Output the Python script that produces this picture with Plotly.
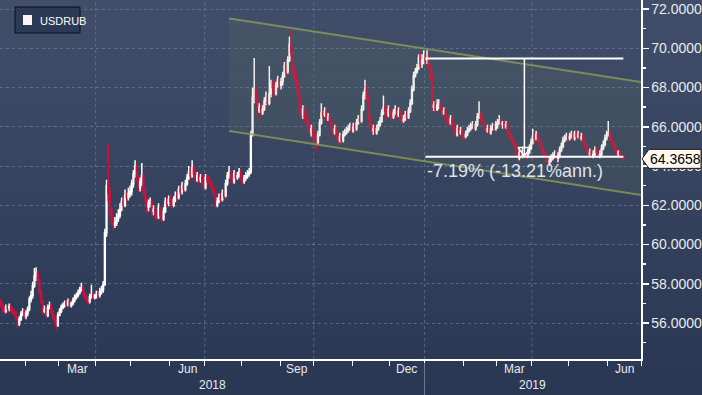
import sys
import numpy as np
import pandas as pd
import plotly.graph_objects as go

# ---------------- data ----------------
series_name = "USDRUB"
start_date = "2018-01-11"
axis_end_date = "2019-07-01"

open_ = [
    # Jan 2018
    57.10, 56.95, 56.70, 56.60, 56.80, 56.75, 56.85, 56.65, 56.55, 56.50, 56.25, 55.95, 56.20, 56.45, 56.60,
    # Feb
    56.35, 56.50, 56.70, 57.20, 57.40, 57.90, 58.40, 58.55, 58.20, 57.60, 57.10, 56.60, 56.70, 56.40, 56.80, 56.90, 56.60, 56.30, 56.10, 55.90,
    # Mar
    56.40, 56.60, 56.80, 56.90, 57.00, 56.95, 57.10, 56.90, 57.00, 57.15, 57.30, 57.40, 57.55, 57.70, 57.80, 57.50, 57.30, 57.20, 57.10, 57.35, 57.45, 57.30,
    # Apr
    57.40, 57.45, 57.40, 57.60, 57.70, 57.95, 60.60, 63.10, 62.60, 61.70, 61.20, 61.00, 61.10, 61.30, 61.50, 61.80, 62.20, 62.00, 62.50, 62.40, 62.60,
    # May
    62.70, 63.10, 63.60, 64.00, 63.40, 62.90, 63.20, 63.50, 62.70, 62.30, 61.90, 62.10, 62.20, 61.70, 61.80, 61.50, 61.40, 61.90, 61.50, 61.30, 61.70, 62.20, 62.10,
    # Jun
    62.30, 62.20, 62.00, 62.30, 62.50, 62.40, 62.80, 62.70, 63.00, 62.80, 63.10, 63.40, 63.70, 63.50, 63.90, 63.60, 63.30, 63.50, 63.30, 63.40, 63.10,
    # Jul
    62.90, 63.40, 63.30, 63.20, 63.00, 62.80, 62.50, 62.00, 62.20, 62.40, 62.30, 62.60, 62.50, 63.10, 63.50, 63.70, 63.40, 63.20, 63.60, 63.40, 63.50, 63.70,
    # Aug
    63.40, 63.20, 63.40, 63.50, 63.60, 63.70, 65.60, 67.50, 67.90, 67.30, 66.80, 67.00, 66.70, 66.90, 67.30, 67.50, 67.20, 67.70, 68.20, 68.00, 67.70, 68.10, 68.40,
    # Sep
    68.10, 68.30, 68.60, 69.10, 68.80, 69.40, 70.20, 69.80, 68.90, 68.50, 68.10, 67.60, 67.00, 66.60, 66.90, 66.50, 66.30, 66.00, 65.70, 65.90,
    # Oct
    65.60, 65.40, 65.20, 65.60, 66.20, 66.70, 66.60, 66.80, 66.40, 66.50, 66.20, 66.00, 65.70, 65.90, 65.40, 65.30, 65.50, 65.30, 65.60, 65.70, 65.80, 65.90, 66.00,
    # Nov
    65.80, 66.00, 65.90, 66.20, 66.40, 66.30, 66.90, 67.60, 67.90, 67.50, 66.40, 66.00, 65.80, 65.90, 65.70, 65.90, 66.10, 66.30, 66.70, 67.00, 66.80, 66.60,
    # Dec
    66.90, 66.60, 66.50, 66.70, 66.90, 66.60, 66.80, 66.50, 66.30, 66.40, 66.60, 66.50, 66.80, 67.20, 67.90, 68.60, 68.80, 69.00, 69.50, 69.20, 69.40,
    # Jan 2019
    69.50, 69.40, 69.50, 69.10, 68.60, 67.00, 67.10, 66.90, 67.10, 67.20, 66.90, 66.70, 66.80, 66.50, 66.30, 66.20, 66.40, 66.00, 65.80, 65.60, 65.90, 65.70, 65.80,
    # Feb
    65.50, 65.50, 65.60, 65.80, 65.90, 66.00, 66.10, 65.90, 66.10, 66.50, 66.60, 66.40, 66.20, 65.90, 65.80, 65.90, 65.70, 65.90, 66.00, 65.90,
    # Mar
    66.10, 66.20, 66.30, 66.10, 66.20, 66.00, 66.10, 65.70, 65.50, 65.40, 65.20, 65.00, 64.60, 64.40, 64.70, 64.50, 64.80, 64.60, 64.50, 64.70, 64.90,
    # Apr
    65.20, 65.50, 65.40, 65.60, 65.30, 65.20, 64.90, 64.70, 64.50, 64.30, 64.10, 64.30, 64.40, 64.50, 64.60, 64.40, 64.50, 64.80, 65.00, 65.30, 65.40, 65.50,
    # May
    65.40, 65.50, 65.60, 65.40, 65.70, 65.50, 65.60, 65.40, 65.50, 65.30, 65.00, 64.80, 64.60, 64.70, 64.50, 64.60, 64.80, 64.70, 64.50, 64.60, 64.90, 65.10, 65.40,
    # Jun
    65.60, 65.70, 65.40, 65.20, 65.10, 64.80, 64.60, 64.70, 64.50, 64.45,
]

high = [
    # Jan 2018
    57.25, 57.05, 56.85, 56.95, 56.95, 57.00, 56.95, 56.80, 56.70, 56.60, 56.35, 56.35, 56.60, 56.75, 56.70,
    # Feb
    56.65, 56.85, 57.35, 57.65, 58.10, 58.80, 58.85, 58.70, 58.30, 57.70, 57.20, 56.90, 56.85, 56.95, 57.10, 57.00, 56.70, 56.45, 56.25, 56.55,
    # Mar
    56.75, 56.95, 57.05, 57.15, 57.15, 57.25, 57.20, 57.10, 57.30, 57.45, 57.55, 57.70, 57.85, 58.05, 57.90, 57.60, 57.40, 57.30, 57.50, 57.95, 57.55, 57.50,
    # Apr
    57.65, 57.60, 57.80, 57.90, 58.15, 60.80, 63.30, 65.10, 62.90, 61.90, 61.40, 61.40, 61.60, 61.80, 62.10, 62.40, 62.40, 62.80, 62.70, 62.90, 63.00,
    # May
    63.30, 63.80, 64.30, 64.10, 63.50, 63.40, 64.15, 63.60, 62.90, 62.40, 62.30, 62.40, 62.30, 62.00, 61.90, 61.60, 62.10, 61.95, 61.60, 61.90, 62.40, 62.40, 62.50,
    # Jun
    62.50, 62.35, 62.45, 62.70, 62.65, 63.00, 62.95, 63.20, 63.15, 63.30, 63.60, 64.00, 63.90, 64.30, 64.10, 63.80, 63.70, 63.60, 63.60, 63.55, 63.30,
    # Jul
    63.60, 63.60, 63.50, 63.35, 63.15, 62.95, 62.60, 62.40, 62.60, 62.55, 62.80, 62.75, 63.30, 63.70, 64.00, 63.80, 63.55, 63.80, 63.75, 63.70, 63.90, 63.85,
    # Aug
    63.55, 63.55, 63.70, 63.80, 63.90, 65.80, 68.00, 69.50, 68.10, 67.50, 67.20, 67.20, 67.10, 67.50, 67.80, 67.60, 69.10, 68.40, 68.40, 68.20, 68.30, 68.60, 68.50,
    # Sep
    68.50, 68.80, 69.30, 69.30, 69.60, 70.60, 71.00, 69.90, 69.10, 68.70, 68.30, 67.70, 67.20, 67.10, 67.00, 66.70, 66.50, 66.20, 66.10, 66.00,
    # Oct
    65.80, 65.60, 65.80, 66.40, 67.20, 66.90, 67.00, 66.90, 66.70, 66.60, 66.30, 66.10, 66.10, 66.00, 65.60, 65.70, 65.60, 65.80, 65.90, 66.00, 66.10, 66.20, 66.10,
    # Nov
    66.20, 66.20, 66.40, 66.60, 66.60, 67.10, 67.80, 68.40, 68.10, 67.60, 66.60, 66.20, 66.10, 66.10, 66.10, 66.30, 66.50, 66.90, 67.60, 67.20, 67.00, 67.10,
    # Dec
    67.00, 66.80, 66.90, 67.10, 67.00, 67.00, 66.90, 66.60, 66.60, 66.80, 66.80, 67.00, 67.40, 68.10, 68.80, 69.00, 69.20, 69.70, 69.80, 69.70, 69.90,
    # Jan 2019
    69.70, 69.90, 69.70, 69.20, 68.90, 67.30, 67.30, 67.40, 67.40, 67.30, 67.00, 67.00, 66.90, 66.60, 66.50, 66.60, 66.50, 66.20, 65.90, 66.10, 66.00, 66.00, 65.90,
    # Feb
    65.70, 65.80, 66.00, 66.10, 66.20, 66.30, 66.20, 66.30, 66.70, 67.30, 66.80, 66.60, 66.30, 66.00, 66.10, 66.00, 66.10, 66.20, 66.10, 66.30,
    # Mar
    66.40, 66.60, 66.40, 66.30, 66.30, 66.30, 66.20, 65.80, 65.70, 65.50, 65.30, 65.10, 64.70, 64.90, 64.80, 65.00, 64.90, 64.70, 64.90, 65.10, 65.40,
    # Apr
    65.90, 65.70, 65.80, 65.70, 65.40, 65.30, 65.00, 64.80, 64.60, 64.40, 64.50, 64.60, 64.70, 64.80, 64.70, 64.70, 65.00, 65.20, 65.50, 65.60, 65.70, 65.60,
    # May
    65.70, 65.80, 65.70, 65.80, 65.80, 65.80, 65.70, 65.70, 65.60, 65.40, 65.10, 64.90, 64.90, 64.80, 64.80, 65.00, 65.00, 64.80, 64.80, 65.10, 65.30, 65.60, 65.80,
    # Jun
    66.30, 65.80, 65.50, 65.30, 65.20, 64.90, 64.80, 64.80, 64.60, 64.55,
]

low = [
    # Jan 2018
    56.80, 56.55, 56.45, 56.50, 56.60, 56.60, 56.55, 56.45, 56.35, 56.15, 55.75, 55.85, 56.10, 56.35, 56.25,
    # Feb
    56.20, 56.35, 56.60, 57.05, 57.25, 57.80, 58.15, 58.05, 57.45, 57.00, 56.45, 56.50, 56.30, 56.30, 56.70, 56.45, 56.20, 55.95, 55.65, 55.80,
    # Mar
    56.35, 56.50, 56.70, 56.80, 56.85, 56.85, 56.80, 56.80, 56.90, 57.05, 57.20, 57.30, 57.45, 57.60, 57.40, 57.20, 57.05, 56.95, 57.00, 57.25, 57.20, 57.20,
    # Apr
    57.25, 57.25, 57.30, 57.45, 57.55, 57.90, 60.40, 62.20, 61.40, 61.00, 60.70, 60.85, 60.95, 61.15, 61.35, 61.70, 61.80, 61.90, 62.20, 62.25, 62.40,
    # May
    62.50, 62.90, 63.40, 63.20, 62.70, 62.70, 63.00, 62.50, 62.10, 61.60, 61.70, 61.90, 61.50, 61.50, 61.30, 61.20, 61.30, 61.35, 61.10, 61.20, 61.60, 61.90, 61.95,
    # Jun
    62.00, 61.85, 61.90, 62.15, 62.25, 62.30, 62.55, 62.55, 62.65, 62.70, 63.00, 63.30, 63.35, 63.40, 63.45, 63.15, 63.20, 63.15, 63.15, 63.00, 62.75,
    # Jul
    62.80, 63.15, 63.10, 62.90, 62.70, 62.40, 61.80, 61.90, 62.10, 62.15, 62.20, 62.35, 62.40, 63.00, 63.35, 63.30, 63.05, 63.10, 63.30, 63.30, 63.40, 63.30,
    # Aug
    63.00, 63.10, 63.25, 63.35, 63.45, 63.60, 65.50, 67.20, 67.10, 66.30, 66.70, 66.50, 66.60, 66.80, 67.10, 67.00, 67.10, 67.50, 67.70, 67.50, 67.60, 68.00, 67.90,
    # Sep
    67.90, 68.10, 68.50, 68.60, 68.70, 69.30, 69.60, 68.60, 68.30, 67.90, 67.40, 66.80, 66.40, 66.40, 66.30, 66.10, 65.80, 65.50, 65.50, 65.40,
    # Oct
    65.20, 64.70, 65.10, 65.50, 66.10, 66.40, 66.50, 66.30, 66.30, 66.10, 65.80, 65.50, 65.60, 65.30, 65.10, 65.20, 65.10, 65.20, 65.50, 65.60, 65.70, 65.80, 65.70,
    # Nov
    65.70, 65.80, 65.80, 66.10, 66.20, 66.20, 66.80, 67.40, 67.30, 66.30, 65.90, 65.70, 65.60, 65.60, 65.60, 65.80, 66.00, 66.20, 66.60, 66.60, 66.40, 66.50,
    # Dec
    66.40, 66.30, 66.40, 66.60, 66.40, 66.50, 66.30, 66.10, 66.20, 66.30, 66.30, 66.40, 66.70, 67.10, 67.80, 68.50, 68.70, 68.90, 69.00, 69.00, 69.20,
    # Jan 2019
    69.20, 69.20, 69.00, 68.40, 66.80, 66.80, 66.70, 66.80, 66.90, 66.80, 66.50, 66.60, 66.30, 66.10, 66.00, 66.10, 65.90, 65.70, 65.40, 65.50, 65.60, 65.60, 65.40,
    # Feb
    65.30, 65.40, 65.50, 65.70, 65.80, 65.90, 65.80, 65.80, 66.00, 66.40, 66.30, 66.10, 65.80, 65.70, 65.70, 65.60, 65.60, 65.80, 65.80, 65.80,
    # Mar
    65.90, 66.10, 66.00, 65.90, 65.90, 65.90, 65.60, 65.40, 65.30, 65.10, 64.90, 64.50, 64.20, 64.30, 64.40, 64.40, 64.40, 64.30, 64.40, 64.60, 64.80,
    # Apr
    65.10, 65.20, 65.30, 65.20, 65.00, 64.80, 64.60, 64.40, 64.20, 63.90, 64.00, 64.20, 64.30, 64.40, 64.30, 64.20, 64.40, 64.70, 64.90, 65.20, 65.30, 65.20,
    # May
    65.30, 65.40, 65.30, 65.30, 65.40, 65.40, 65.30, 65.30, 65.20, 64.90, 64.70, 64.50, 64.50, 64.40, 64.40, 64.50, 64.60, 64.40, 64.40, 64.50, 64.80, 65.00, 65.30,
    # Jun
    65.50, 65.30, 65.10, 64.90, 64.70, 64.50, 64.50, 64.40, 64.35, 64.30,
]

close = [
    # Jan 2018
    56.95, 56.70, 56.60, 56.80, 56.75, 56.85, 56.65, 56.55, 56.50, 56.25, 55.95, 56.20, 56.45, 56.60, 56.35,
    # Feb
    56.50, 56.70, 57.20, 57.40, 57.90, 58.40, 58.55, 58.20, 57.60, 57.10, 56.60, 56.70, 56.40, 56.80, 56.90, 56.60, 56.30, 56.10, 55.90, 56.40,
    # Mar
    56.60, 56.80, 56.90, 57.00, 56.95, 57.10, 56.90, 57.00, 57.15, 57.30, 57.40, 57.55, 57.70, 57.80, 57.50, 57.30, 57.20, 57.10, 57.35, 57.45, 57.30, 57.40,
    # Apr
    57.45, 57.40, 57.60, 57.70, 57.95, 60.60, 63.00, 62.60, 61.70, 61.20, 61.00, 61.10, 61.30, 61.50, 61.80, 62.20, 62.00, 62.50, 62.40, 62.60, 62.70,
    # May
    63.10, 63.60, 64.00, 63.40, 62.90, 63.20, 63.50, 62.70, 62.30, 61.90, 62.10, 62.20, 61.70, 61.80, 61.50, 61.40, 61.90, 61.50, 61.30, 61.70, 62.20, 62.10, 62.30,
    # Jun
    62.20, 62.00, 62.30, 62.50, 62.40, 62.80, 62.70, 63.00, 62.80, 63.10, 63.40, 63.70, 63.50, 63.90, 63.60, 63.30, 63.50, 63.30, 63.40, 63.10, 62.90,
    # Jul
    63.40, 63.30, 63.20, 63.00, 62.80, 62.50, 62.00, 62.20, 62.40, 62.30, 62.60, 62.50, 63.10, 63.50, 63.70, 63.40, 63.20, 63.60, 63.40, 63.50, 63.70, 63.40,
    # Aug
    63.20, 63.40, 63.50, 63.60, 63.70, 65.60, 67.50, 67.90, 67.30, 66.80, 67.00, 66.70, 66.90, 67.30, 67.50, 67.20, 67.70, 68.20, 68.00, 67.70, 68.10, 68.40, 68.10,
    # Sep
    68.30, 68.60, 69.10, 68.80, 69.40, 70.20, 69.80, 68.90, 68.50, 68.10, 67.60, 67.00, 66.60, 66.90, 66.50, 66.30, 66.00, 65.70, 65.90, 65.60,
    # Oct
    65.40, 65.20, 65.60, 66.20, 66.70, 66.60, 66.80, 66.40, 66.50, 66.20, 66.00, 65.70, 65.90, 65.40, 65.30, 65.50, 65.30, 65.60, 65.70, 65.80, 65.90, 66.00, 65.80,
    # Nov
    66.00, 65.90, 66.20, 66.40, 66.30, 66.90, 67.60, 67.90, 67.50, 66.40, 66.00, 65.80, 65.90, 65.70, 65.90, 66.10, 66.30, 66.70, 67.00, 66.80, 66.60, 66.90,
    # Dec
    66.60, 66.50, 66.70, 66.90, 66.60, 66.80, 66.50, 66.30, 66.40, 66.60, 66.50, 66.80, 67.20, 67.90, 68.60, 68.80, 69.00, 69.50, 69.20, 69.40, 69.50,
    # Jan 2019
    69.40, 69.50, 69.10, 68.60, 67.00, 67.10, 66.90, 67.10, 67.20, 66.90, 66.70, 66.80, 66.50, 66.30, 66.20, 66.40, 66.00, 65.80, 65.60, 65.90, 65.70, 65.80, 65.50,
    # Feb
    65.50, 65.60, 65.80, 65.90, 66.00, 66.10, 65.90, 66.10, 66.50, 66.60, 66.40, 66.20, 65.90, 65.80, 65.90, 65.70, 65.90, 66.00, 65.90, 66.10,
    # Mar
    66.20, 66.30, 66.10, 66.20, 66.00, 66.10, 65.70, 65.50, 65.40, 65.20, 65.00, 64.60, 64.40, 64.70, 64.50, 64.80, 64.60, 64.50, 64.70, 64.90, 65.20,
    # Apr
    65.50, 65.40, 65.60, 65.30, 65.20, 64.90, 64.70, 64.50, 64.30, 64.10, 64.30, 64.40, 64.50, 64.60, 64.40, 64.50, 64.80, 65.00, 65.30, 65.40, 65.50, 65.40,
    # May
    65.50, 65.60, 65.40, 65.70, 65.50, 65.60, 65.40, 65.50, 65.30, 65.00, 64.80, 64.60, 64.70, 64.50, 64.60, 64.80, 64.70, 64.50, 64.60, 64.90, 65.10, 65.40, 65.60,
    # Jun
    65.70, 65.40, 65.20, 65.10, 64.80, 64.60, 64.70, 64.50, 64.45, 64.3658,
]

y_ticks = [56, 58, 60, 62, 64, 66, 68, 70, 72]
month_labels = ["Mar", "Jun", "Sep", "Dec", "Mar", "Jun"]
month_label_months = ["2018-03", "2018-06", "2018-09", "2018-12", "2019-03", "2019-06"]
year_labels = ["2018", "2019"]
grid_months = ["2018-04", "2018-07", "2018-10", "2019-01", "2019-04"]

channel_dates = ["2018-07-20", "2019-07-01"]
channel_upper = [71.52, 68.28]
channel_lower = [65.79, 62.52]

measure_dates = ["2019-01-01", "2019-06-14"]
measure_levels = [69.48, 64.48]
measure_arrow_date = "2019-03-25"
measure_text = "-7.19% (-13.21%ann.)"

# ---------------- helpers ----------------
print("lengths", len(open_), len(high), len(low), len(close), file=sys.stderr)
all_days = pd.bdate_range(start_date, axis_end_date)
n = len(close)
xs = np.arange(n)


def pos(d):
    return float(all_days.searchsorted(pd.Timestamp(d)))


def boundary(month):
    return pos(pd.Timestamp(month + "-01")) - 0.5


month_starts = pd.date_range("2018-02-01", axis_end_date, freq="MS")
tick_pos = [boundary(m.strftime("%Y-%m")) for m in month_starts]
x_lo = -0.5
x_hi = boundary(axis_end_date[:7])
y_lo, y_hi = 54.17, 72.46

W, H = 702, 395
ML, MR, MT, MB = 0, 61, 0, 36
PW, PH = W - ML - MR, H - MT - MB

BG_TOP = (64, 78, 106)
BG_BOT = (42, 55, 83)
GRID = "rgba(120,140,170,0.55)"
TXT = "#e8ebf0"
FONT = "Liberation Sans, Arial, sans-serif"
NARROW = "Liberation Sans Narrow, Arial Narrow, Liberation Sans, sans-serif"
CH_LINE = "rgba(140,155,85,0.8)"
UP = "#ffffff"
DOWN = "#c8123e"

fig = go.Figure()

# channel
cx = [pos(d) for d in channel_dates]
fig.add_trace(go.Scatter(x=cx, y=channel_lower, mode="lines",
                         line=dict(color=CH_LINE, width=2),
                         hoverinfo="skip", showlegend=False))
fig.add_trace(go.Scatter(x=cx, y=channel_upper, mode="lines",
                         line=dict(color=CH_LINE, width=2),
                         fill="tonexty", fillcolor="rgba(125,140,95,0.12)",
                         hoverinfo="skip", showlegend=False))

# candles
fig.add_trace(go.Candlestick(
    x=xs, open=open_, high=high, low=low, close=close, name=series_name,
    increasing=dict(line=dict(color=UP, width=1.5), fillcolor="rgba(0,0,0,0)"),
    decreasing=dict(line=dict(color=DOWN, width=1.5), fillcolor=DOWN),
    whiskerwidth=0, showlegend=False, hoverinfo="skip"))

# measurement tool
mx = [pos(d) for d in measure_dates]
for lvl in measure_levels:
    fig.add_trace(go.Scatter(x=mx, y=[lvl, lvl], mode="lines",
                             line=dict(color="#ffffff", width=2),
                             hoverinfo="skip", showlegend=False))
ax_ = pos(measure_arrow_date)
fig.add_trace(go.Scatter(x=[ax_, ax_], y=measure_levels, mode="lines",
                         line=dict(color="#ffffff", width=1.5),
                         hoverinfo="skip", showlegend=False))
fig.add_trace(go.Scatter(x=[ax_], y=[measure_levels[1] + 0.32], mode="markers",
                         marker=dict(symbol="triangle-down-open", size=11,
                                     color="#ffffff", line=dict(width=1.5, color="#ffffff")),
                         hoverinfo="skip", showlegend=False))

shapes = []
# background gradient
nb = 40
for i in range(nb):
    t = i / (nb - 1)
    c = tuple(int(round(BG_TOP[k] + (BG_BOT[k] - BG_TOP[k]) * t)) for k in range(3))
    y1 = 1 + MT / PH - i * (H / PH) / nb
    y0 = y1 - (H / PH) / nb - 0.002
    shapes.append(dict(type="rect", xref="paper", yref="paper",
                       x0=-ML / PW, x1=(W - ML) / PW, y0=y0, y1=y1,
                       fillcolor="rgb(%d,%d,%d)" % c, line=dict(width=0), layer="below"))
# quarterly vertical grid lines
for m in grid_months:
    shapes.append(dict(type="line", xref="x", yref="paper", x0=boundary(m), x1=boundary(m),
                       y0=0, y1=1, line=dict(color=GRID, width=1, dash="3px,3px"),
                       layer="below"))
# year separator
sep = boundary("2019-01")
shapes.append(dict(type="line", xref="x", yref="paper", x0=sep, x1=sep,
                   y0=-4 / PH, y1=-MB / PH, line=dict(color="#6d7c95", width=1)))


def px2x(px):
    return (px - ML) / PW


def py2y(py):
    return (MT + PH - py) / PH


# legend box
shapes.append(dict(type="rect", xref="paper", yref="paper",
                   x0=px2x(15), x1=px2x(80), y0=py2y(33), y1=py2y(7),
                   fillcolor="#2c3a55", line=dict(color="#0b0f18", width=1)))
shapes.append(dict(type="rect", xref="paper", yref="paper",
                   x0=px2x(23), x1=px2x(32), y0=py2y(25), y1=py2y(15),
                   fillcolor="#fff4f4", line=dict(width=0)))
# last price label box with pointer
last = close[-1]
hh = 9.5 * (y_hi - y_lo) / PH
tip, bx, rx = px2x(642), px2x(649), px2x(701)
shapes.append(dict(type="path", xref="paper", yref="y",
                   path=f"M {tip},{last} L {bx},{last + hh} L {rx},{last + hh} L {rx},{last - hh} L {bx},{last - hh} Z",
                   fillcolor="#fff8ee", line=dict(color="#1a1a1a", width=1)))

annotations = []
annotations.append(dict(xref="paper", yref="paper", x=px2x(38), y=py2y(20.5),
                        text=series_name, showarrow=False, xanchor="left", yanchor="middle",
                        font=dict(family=NARROW, size=11, color="#ffffff")))
annotations.append(dict(xref="paper", yref="y", x=(bx + rx) / 2, y=last,
                        text=f"{last:.4f}", showarrow=False, xanchor="center", yanchor="middle",
                        font=dict(family=FONT, size=14, color="#000000")))
annotations.append(dict(xref="x", yref="y", x=mx[0], y=measure_levels[1] - 0.72,
                        text=measure_text, showarrow=False, xanchor="left", yanchor="middle",
                        font=dict(family=FONT, size=18, color="#dfe3ea")))
for lab, m in zip(month_labels, month_label_months):
    a = boundary(m)
    nxt = (pd.Timestamp(m + "-01") + pd.offsets.MonthBegin(1)).strftime("%Y-%m")
    b = boundary(nxt)
    annotations.append(dict(xref="x", yref="paper", x=(a + b) / 2, y=py2y(369),
                            text=lab, showarrow=False, xanchor="center", yanchor="middle",
                            font=dict(family=FONT, size=12, color=TXT)))
year_centers = [(x_lo + sep) / 2, (sep + x_hi) / 2]
for lab, xc in zip(year_labels, year_centers):
    annotations.append(dict(xref="x", yref="paper", x=xc, y=py2y(385),
                            text=lab, showarrow=False, xanchor="center", yanchor="middle",
                            font=dict(family=FONT, size=12, color=TXT)))

fig.update_layout(
    width=W, height=H, margin=dict(l=ML, r=MR, t=MT, b=MB),
    paper_bgcolor="rgb(%d,%d,%d)" % BG_BOT, plot_bgcolor="rgba(0,0,0,0)",
    showlegend=False, shapes=shapes, annotations=annotations,
    xaxis=dict(range=[x_lo, x_hi], tickvals=tick_pos, showticklabels=False,
               ticks="outside", ticklen=5, tickcolor="#ffffff", tickwidth=1,
               showgrid=False, zeroline=False, showline=True, linecolor="#ffffff",
               linewidth=1.5, rangeslider=dict(visible=False), fixedrange=True),
    yaxis=dict(range=[y_lo, y_hi], side="right", tickvals=y_ticks, tickformat=".4f",
               ticks="outside", ticklen=6, tickwidth=1.5, tickcolor="#ffffff",
               tickfont=dict(family=FONT, size=14, color=TXT),
               showgrid=True, gridcolor=GRID, griddash="3px,3px", gridwidth=1,
               zeroline=False, showline=True, linecolor="#ffffff", linewidth=1.5,
               minor=dict(ticks="outside", ticklen=3, tickcolor="#ffffff", dtick=1,
                          tick0=0, showgrid=False),
               automargin=False, fixedrange=True),
)

fig.write_html("out.html",
               config={"displayModeBar": False, "staticPlot": True},
               post_script="document.body.style.margin='0';document.body.style.padding='0';"
                           "document.body.style.overflow='hidden';")
